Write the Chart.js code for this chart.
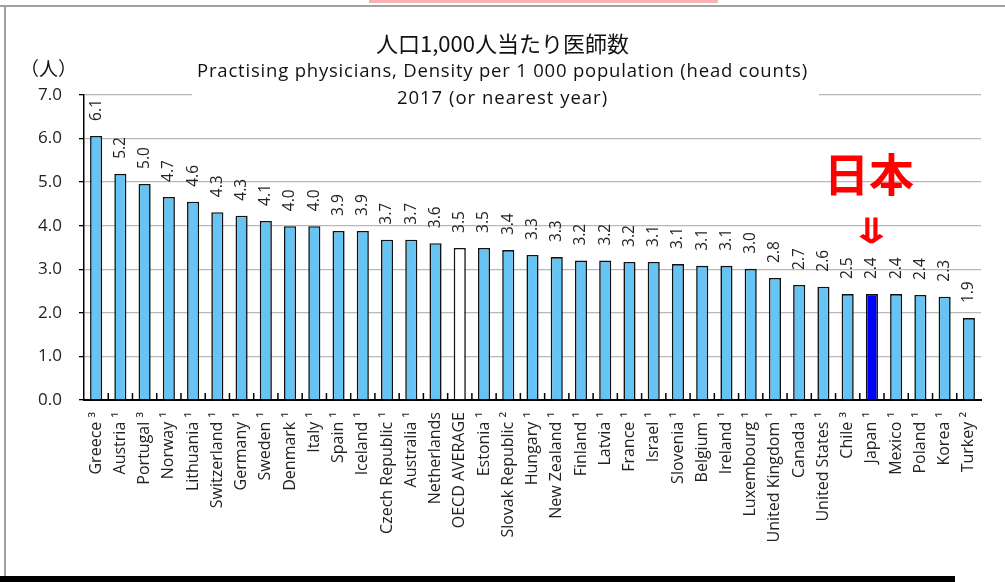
<!DOCTYPE html>
<html>
<head>
<meta charset="utf-8">
<script src="https://cdn.jsdelivr.net/npm/chart.js@4"></script>
<style>
  html, body { margin: 0; padding: 0; background: #fff; }
  #wrap { position: relative; width: 1005px; height: 582px; overflow: hidden; background: #fff; }
  #c { position: absolute; left: 0; top: 0; }
  .ov { position: absolute; white-space: nowrap; }
  #frameTop { position: absolute; left: 0; top: 5px; width: 1005px; height: 2px; background: #a0a0a0; }
  #frameLeft { position: absolute; left: 4px; top: 5px; width: 2px; height: 575px; background: #a0a0a0; }
  #pink { position: absolute; left: 369px; top: 0; width: 349px; height: 3px; background: #f7b3b3; }
  #blackbar { position: absolute; left: 0; top: 576px; width: 955px; height: 6px; background: #000; }
  #titleBox { position: absolute; left: 192px; top: 24px; width: 627px; height: 86px; background: #fff; }
  #t1 { left: 0; width: 1005px; top: 26px; text-align: center; font-family: "Noto Sans CJK JP"; font-size: 22px; color: #111; }
  #t2 { left: 0; width: 1005px; top: 57px; text-align: center; font-family: "Open Sans"; font-size: 18.5px; color: #111; letter-spacing: 0.8px; }
  #t3 { left: 0; width: 1005px; top: 84px; text-align: center; font-family: "Open Sans"; font-size: 18.5px; color: #111; letter-spacing: 1px; }
  #unit { left: 20px; top: 54px; font-family: "Noto Sans CJK JP"; font-size: 19px; color: #111; }
  #jp { left: 824px; top: 146px; font-family: "Noto Sans CJK JP"; font-weight: 700; font-size: 45px; line-height: 54px; color: #ff0000; }
  #arrow { left: 856px; top: 212px; width: 30px; text-align: center; font-family: "DejaVu Sans"; font-weight: 700; font-size: 28px; line-height: 40px; color: #ff0000; transform: scale(1.9, 1.25); transform-origin: 50% 50%; }
</style>
</head>
<body>
<div id="wrap">
  <canvas id="c" width="1005" height="582"></canvas>
  <div id="pink"></div>
  <div id="frameTop"></div>
  <div id="frameLeft"></div>
  <div id="titleBox"></div>
  <div class="ov" id="t1">人口1,000人当たり医師数</div>
  <div class="ov" id="t2">Practising physicians, Density per 1 000 population (head counts)</div>
  <div class="ov" id="t3">2017 (or nearest year)</div>
  <div class="ov" id="unit">（人）</div>
  <div class="ov" id="jp">日本</div>
  <div class="ov" id="arrow">⇓</div>
  <div id="blackbar"></div>
</div>
<script>
const categories = ['Greece ³','Austria ¹','Portugal ³','Norway ¹','Lithuania ¹','Switzerland ¹','Germany ¹','Sweden ¹','Denmark ¹','Italy ¹','Spain ¹','Iceland ¹','Czech Republic ¹','Australia ¹','Netherlands','OECD AVERAGE','Estonia ¹','Slovak Republic ²','Hungary ¹','New Zealand ¹','Finland ¹','Latvia ¹','France ¹','Israel ¹','Slovenia ¹','Belgium ¹','Ireland ¹','Luxembourg ¹','United Kingdom ¹','Canada ¹','United States ¹','Chile ³','Japan ¹','Mexico ¹','Poland ¹','Korea ¹','Turkey ²'];
const values = [6.06,5.19,4.96,4.66,4.55,4.31,4.23,4.11,3.99,3.99,3.88,3.88,3.68,3.68,3.60,3.49,3.49,3.44,3.33,3.28,3.20,3.20,3.17,3.17,3.12,3.08,3.08,3.01,2.80,2.64,2.60,2.43,2.43,2.43,2.41,2.37,1.88];
const valueLabels = ['6.1','5.2','5.0','4.7','4.6','4.3','4.3','4.1','4.0','4.0','3.9','3.9','3.7','3.7','3.6','3.5','3.5','3.4','3.3','3.3','3.2','3.2','3.2','3.1','3.1','3.1','3.1','3.0','2.8','2.7','2.6','2.5','2.4','2.4','2.4','2.3','1.9'];
const yTicks = [0,1,2,3,4,5,6,7];

const BAR_BLUE = '#66c4f5';
const barColors = categories.map(c => c.startsWith('Japan') ? '#0000ff' : (c === 'OECD AVERAGE' ? '#ffffff' : BAR_BLUE));

const valueLabelPlugin = {
  id: 'valueLabels',
  afterDatasetsDraw(chart) {
    const ctx = chart.ctx;
    const meta = chart.getDatasetMeta(0);
    ctx.save();
    ctx.font = '15.5px "Open Sans"';
    ctx.fillStyle = '#222';
    ctx.textAlign = 'left';
    ctx.textBaseline = 'middle';
    meta.data.forEach((bar, i) => {
      ctx.save();
      ctx.translate(bar.x, bar.y - 15);
      ctx.rotate(-Math.PI / 2);
      ctx.fillText(valueLabels[i], 0, 0);
      ctx.restore();
    });
    ctx.restore();
  }
};

const innerTickPlugin = {
  id: 'innerTicks',
  afterDraw(chart) {
    const xs = chart.scales.x;
    const ctx = chart.ctx;
    const n = categories.length;
    ctx.save();
    ctx.strokeStyle = '#000';
    ctx.lineWidth = 1.5;
    for (let i = 1; i < n; i++) {
      const x = (xs.getPixelForValue(i - 1) + xs.getPixelForValue(i)) / 2;
      ctx.beginPath();
      ctx.moveTo(x, xs.top);
      ctx.lineTo(x, xs.top - 7);
      ctx.stroke();
    }
    ctx.restore();
  }
};

new Chart(document.getElementById('c'), {
  type: 'bar',
  data: {
    labels: categories,
    datasets: [{
      data: values,
      backgroundColor: barColors,
      borderColor: '#111',
      borderWidth: 1.6,
      categoryPercentage: 1.0,
      barPercentage: 0.5
    }]
  },
  options: {
    responsive: false,
    animation: false,
    devicePixelRatio: 1,
    layout: { padding: { left: 0, right: 24, top: 95, bottom: 0 } },
    plugins: { legend: { display: false }, title: { display: false }, tooltip: { enabled: false } },
    scales: {
      x: {
        offset: true,
        grid: { display: true, drawOnChartArea: false, drawTicks: false },
        border: { display: true, color: '#000', width: 2 },
        ticks: {
          autoSkip: false, maxRotation: 90, minRotation: 90,
          font: { family: 'Open Sans', size: 16 }, color: '#222', padding: 12
        },
        afterFit(s) { s.height = 182; }
      },
      y: {
        min: yTicks[0], max: yTicks[yTicks.length - 1],
        afterBuildTicks(s) { s.ticks = yTicks.map(v => ({ value: v })); },
        ticks: {
          callback: v => Number(v).toFixed(1),
          font: { family: 'Open Sans', size: 17 }, color: '#222', padding: 17
        },
        grid: { color: '#b8b8b8', lineWidth: 1.3, tickColor: '#000', tickLength: 5, drawTicks: true },
        border: { display: true, color: '#000', width: 1.5 },
        afterFit(s) { s.width = 84; }
      }
    }
  },
  plugins: [valueLabelPlugin, innerTickPlugin]
});
</script>
</body>
</html>
